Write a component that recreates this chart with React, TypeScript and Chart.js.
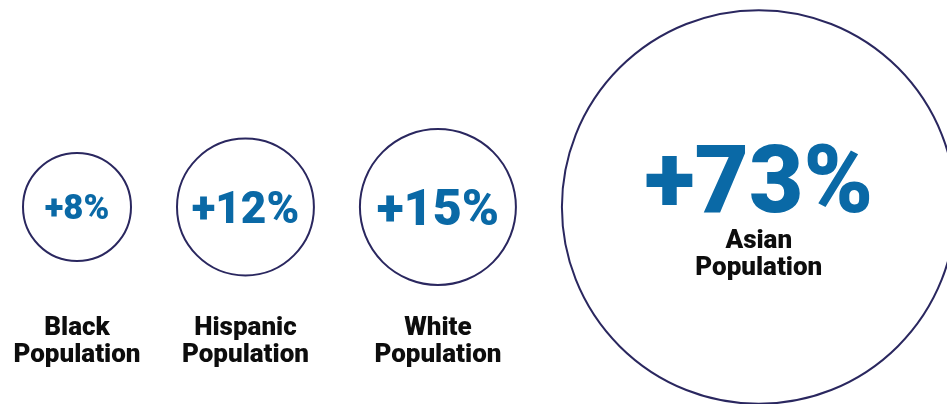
import { useEffect, useRef } from "react";
import { Chart, registerables, BubbleController } from "chart.js";

Chart.register(...registerables);
// keep the chart area full-size: don't shrink it to fit large bubbles
(BubbleController.prototype as any).getMaxOverflow = function () {
  return 0;
};

// ---- data ----
const categories = ["Black", "Hispanic", "White", "Asian"];
const labelFirstLines = ["Black", "Hispanic", "White", "Asian"];
const labelSecondLines = ["Population", "Population", "Population", "Population"];
const growthValues = [8, 12, 15, 73];
const valueLabels = ["+8%", "+12%", "+15%", "+73%"];

// ---- layout / style ----
const W = 947;
const H = 404;
const BASE_R = 54;
const BASE_V = 8;
const EXP = 0.585;
const GAP = 46;
const LEFT = 23;
const FONT = "Roboto, 'Liberation Sans', Arial, sans-serif";
const BLUE = "#0a69a6";
const NAVY = "#2a275f";
const BLACK = "#0d0d0d";

const radiusFor = (v: number) => BASE_R * Math.pow(v / BASE_V, EXP);

function layoutX(values: number[]): number[] {
  let edge = LEFT;
  return values.map((v) => {
    const r = radiusFor(v);
    const cx = edge + r;
    edge = cx + r + GAP;
    return cx;
  });
}

const textPlugin = {
  id: "bubbleText",
  afterDatasetsDraw(chart: any) {
    const ctx = chart.ctx as CanvasRenderingContext2D;
    const meta = chart.getDatasetMeta(0);
    ctx.save();
    ctx.textAlign = "center";
    ctx.textBaseline = "alphabetic";
    meta.data.forEach((el: any, i: number) => {
      const x = el.x;
      const y = el.y;
      const r = radiusFor(growthValues[i]);
      const inside = r > 150;
      const fs = inside ? r * 0.477 : r * 0.645;
      ctx.fillStyle = BLUE;
      ctx.font = `900 ${fs}px ${FONT}`;
      if (inside) {
        ctx.fillText(valueLabels[i], x, y + 5);
        ctx.fillStyle = BLACK;
        ctx.font = `900 26px ${FONT}`;
        ctx.fillText(labelFirstLines[i], x, y + 41);
        ctx.fillText(labelSecondLines[i], x, y + 68);
      } else {
        const cap = fs * 0.711;
        ctx.fillText(valueLabels[i], x, y + cap / 2);
        ctx.fillStyle = BLACK;
        ctx.font = `900 26px ${FONT}`;
        ctx.fillText(labelFirstLines[i], x, y + 128);
        ctx.fillText(labelSecondLines[i], x, y + 155);
      }
    });
    ctx.restore();
  },
};

export default function App() {
  const ref = useRef<HTMLCanvasElement | null>(null);

  useEffect(() => {
    if (!ref.current) return;
    const xs = layoutX(growthValues);
    const chart = new Chart(ref.current, {
      type: "bubble",
      data: {
        labels: categories,
        datasets: [
          {
            label: "Population growth",
            data: growthValues.map((v, i) => ({ x: xs[i], y: 0, r: radiusFor(v) })),
            backgroundColor: "rgba(255,255,255,0)",
            borderColor: NAVY,
            borderWidth: 2,
            hoverBorderWidth: 2,
            clip: false as any,
          },
        ],
      },
      options: {
        animation: false,
        responsive: false,
        events: [],
        layout: { padding: { top: 10, bottom: 0, left: 0, right: 0 } },
        scales: {
          x: { type: "linear", min: 0, max: W, display: false },
          y: { type: "linear", min: -1, max: 1, display: false },
        },
        plugins: {
          legend: { display: false },
          tooltip: { enabled: false },
        },
      },
      plugins: [textPlugin],
    });
    (document as any).fonts?.load?.(`900 26px Roboto`).then(() => chart.update()).catch(() => {});
    return () => chart.destroy();
  }, []);

  return (
    <div style={{ position: "absolute", left: 0, top: 0, width: W, height: H, background: "#fff", overflow: "hidden" }}>
      <canvas ref={ref} width={W} height={H} style={{ width: W, height: H, display: "block" }} />
    </div>
  );
}
